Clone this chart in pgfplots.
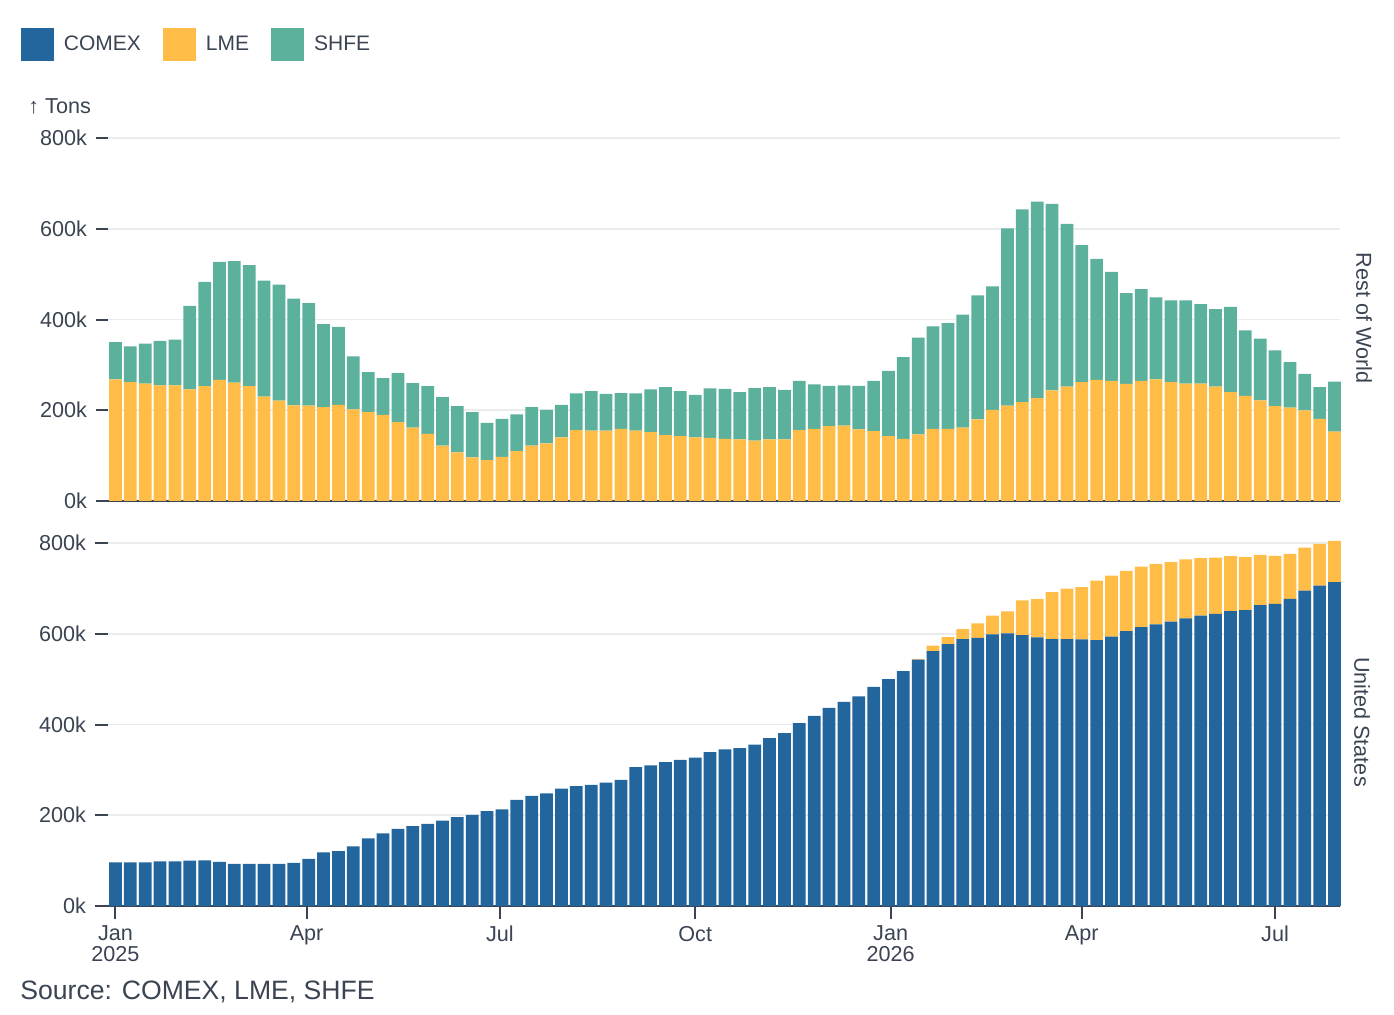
\documentclass[border=0pt]{standalone}
\usepackage{pgfplots}
\pgfplotsset{compat=1.18}
\usepackage{pgfplotstable}
\usepackage{fontspec}
\setmainfont{Liberation Sans}
\definecolor{comex}{HTML}{23659D}
\definecolor{lme}{HTML}{FFBC47}
\definecolor{shfe}{HTML}{5CB19C}
\definecolor{txt}{HTML}{3A4452}
\definecolor{gridc}{HTML}{EBEBEB}

% Rest of World: x (days since 1 Jan 2025), LME, SHFE (thousand tons)
\pgfplotstableread{
x LME SHFE
0 268 82
7 262 79
14 259 88
21 255 98
28 255 101
35 246 184
42 253 230
49 267 260
56 261 268
63 253 267
70 230 256
77 221 256
84 211 235
91 210 226
98 207 183
105 212 172
112 202 117
119 196 88
126 190 81
133 174 108
140 162 98
147 148 105
154 122 107
161 107 102
168 96 100
175 90 82
182 97 84
189 110 81
196 122 85
203 127 74
210 140 72
217 156 81
224 155 87
231 155 81
238 159 79
245 155 82
252 152 94
259 145 106
266 143 99
273 140 94
280 139 109
287 137 110
294 136 104
301 133 116
308 136 115
315 136 109
322 156 109
329 159 98
336 165 89
343 166 89
350 158 96
357 154 111
364 143 144
371 137 180
378 147 213
385 159 226
392 159 233
399 162 249
406 180 273
413 201 272
420 210 391
427 218 425
434 227 433
441 244 411
448 252 359
455 262 302
462 267 267
469 265 240
476 258 200
483 265 202
490 268 181
497 262 180
504 259 183
511 259 175
518 252 171
525 240 188
532 232 144
539 222 136
546 209 123
553 206 100
560 200 80
567 181 70
574 153 110
}\rowtable

% United States: x, COMEX, LME (thousand tons)
\pgfplotstableread{
x COMEX LME
0 96 0
7 96 0
14 96 0
21 98.5 0
28 98.5 0
35 100 0
42 100.6 0
49 97 0
56 93 0
63 92.6 0
70 93 0
77 93 0
84 95 0
91 104 0
98 118 0
105 121 0
112 131.5 0
119 149 0
126 160 0
133 170 0
140 176 0
147 181 0
154 188 0
161 196 0
168 201 0
175 209 0
182 213 0
189 234 0
196 243 0
203 248 0
210 259 0
217 264 0
224 267 0
231 272 0
238 278 0
245 306 0
252 310 0
259 317 0
266 322 0
273 327 0
280 339 0
287 345 0
294 348 0
301 356 0
308 370 0
315 381 0
322 403 0
329 419 0
336 437 0
343 450 0
350 462 0
357 483 0
364 500 0
371 518 0
378 543 1.5
385 562 12
392 577.5 15.4
399 588.5 22
406 591 32
413 599 41
420 601 48.5
427 597 76.5
434 592 84.6
441 588.5 103.5
448 588.5 111
455 588 115
462 586 131
469 594 134
476 606 133
483 615 133
490 621 133
497 627 131
504 634 130
511 640 127
518 644 124
525 650 121
532 652 117
539 663 111
546 666 106
553 677 99
560 695 95
567 706 92.5
574 714 91
}\ustable

\pgfplotsset{
  panel/.style={
    scale only axis, width=616pt, height=186pt,
    xmin=-3.5, xmax=576.6, ymin=0, ymax=820,
    ybar stacked, bar width=6,
    axis x line*=bottom, axis y line*=left,
    x axis line style={-, line width=1.3pt, color=txt},
    y axis line style={draw=none},
    ytick={0,200,400,600,800},
    yticklabels={0k,200k,400k,600k,800k},
    ymajorgrids, grid style={line width=0.9pt, color=gridc},
    tick align=outside, major tick length=6pt,
    major tick style={line width=1pt, color=txt},
    ytick pos=left,
    /pgf/number format/assume math mode=true,
    ticklabel style={font=\fontsize{10.8}{10.5}\selectfont, text=txt},
    yticklabel style={xshift=-1pt},
    clip=false,
  },
}

\begin{document}
\begin{tikzpicture}
\begin{axis}[panel, at={(54pt,256.5pt)}, anchor=south west,
    xtick=\empty,
    legend style={at={(-0.071,1.227)}, anchor=west, draw=none, fill=none,
      inner sep=0pt, legend columns=3,
      font=\fontsize{10.5}{12}\selectfont, text=txt,
      /tikz/every even column/.append style={column sep=9pt},
      cells={anchor=west}},
    legend image code/.code={\fill[#1] (0pt,-8.25pt) rectangle (16.5pt,8.25pt);\path (19.5pt,0pt);},
  ]
  \addlegendimage{fill=comex, draw=none}
  \addplot[fill=lme, draw=none] table[x=x, y=LME] {\rowtable};
  \addplot[fill=shfe, draw=none] table[x=x, y=SHFE] {\rowtable};
  \legend{COMEX, LME, SHFE}
\end{axis}
\begin{axis}[panel, at={(54pt,54pt)}, anchor=south west,
    xtick={0,90,181,273,365,455,546},
    xticklabels={Jan\\2025,Apr,Jul,Oct,Jan\\2026,Apr,Jul},
    xticklabel style={align=center, text=txt},
    xtick pos=bottom,
    major tick length=6.5pt,
  ]
  \addplot[fill=comex, draw=none] table[x=x, y=COMEX] {\ustable};
  \addplot[fill=lme, draw=none] table[x=x, y=LME] {\ustable};
\end{axis}
\node[anchor=west, text=txt, font=\fontsize{10.8}{13}\selectfont, inner sep=0pt] at (14pt,454pt) {↑ Tons};
\node[rotate=-90, text=txt, font=\fontsize{10.8}{13}\selectfont, inner sep=0pt] at (682pt,348pt) {Rest of World};
\node[rotate=-90, text=txt, font=\fontsize{10.8}{13}\selectfont, inner sep=0pt] at (681pt,146pt) {United States};
\node[anchor=west, text=txt, font=\fontsize{13.3}{15}\selectfont, inner sep=0pt] at (10pt,11pt) {Source: COMEX, LME, SHFE};
\pgfresetboundingbox
\path[use as bounding box] (0,0) rectangle (697pt,507pt);
\end{tikzpicture}
\end{document}
